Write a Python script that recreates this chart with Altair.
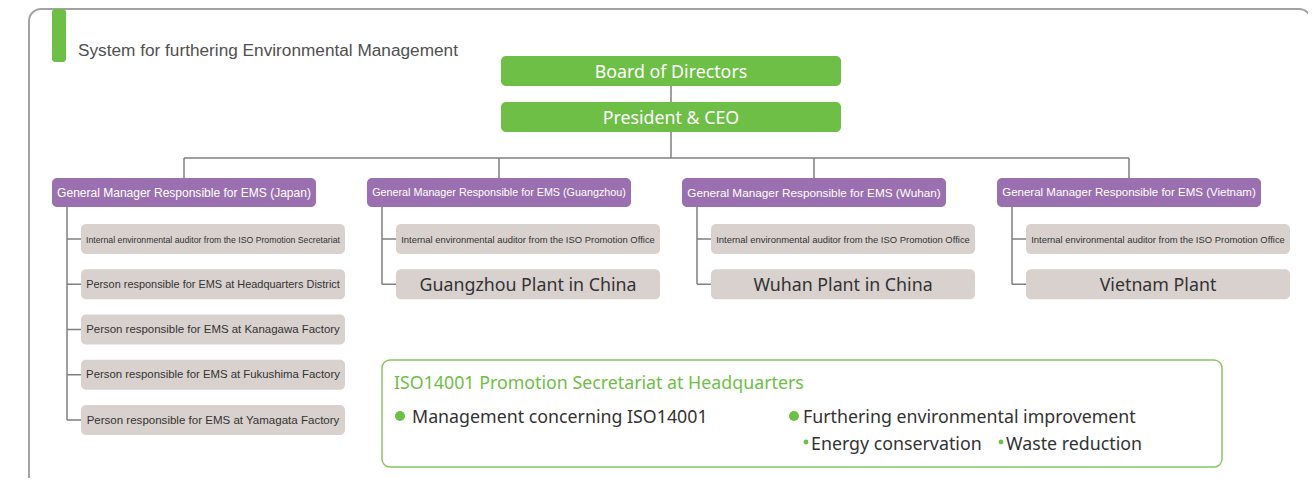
import altair as alt
import pandas as pd

# ---------------- content ----------------
chart_title = "System for furthering Environmental Management"
top_boxes = ["Board of Directors", "President & CEO"]
gm_labels = [
    "General Manager Responsible for EMS (Japan)",
    "General Manager Responsible for EMS (Guangzhou)",
    "General Manager Responsible for EMS (Wuhan)",
    "General Manager Responsible for EMS (Vietnam)",
]
auditor_labels = [
    "Internal environmental auditor from the ISO Promotion Secretariat",
    "Internal environmental auditor from the ISO Promotion Office",
    "Internal environmental auditor from the ISO Promotion Office",
    "Internal environmental auditor from the ISO Promotion Office",
]
japan_persons = [
    "Person responsible for EMS at Headquarters District",
    "Person responsible for EMS at Kanagawa Factory",
    "Person responsible for EMS at Fukushima Factory",
    "Person responsible for EMS at Yamagata Factory",
]
plant_labels = ["Guangzhou Plant in China", "Wuhan Plant in China", "Vietnam Plant"]
iso_title = "ISO14001 Promotion Secretariat at Headquarters"
iso_bullets = ["Management concerning ISO14001", "Furthering environmental improvement"]
iso_sub_bullets = ["Energy conservation", "Waste reduction"]

# ---------------- layout (pixels) ----------------
W, H = 1300, 470
X0, Y0 = 8, 8
GREEN = "#6dbf45"
PURPLE = "#9b70b0"
GREYBOX = "#d9d1ce"
LINE = "#7f7f7f"
TXT = "#333333"
NARROW = "Liberation Sans"
MAIN = "Noto Sans"
MAIN_SIZE = 17.8

# Arial / Liberation Sans advance widths (1/1000 em) to fit labels to boxes
_AW = {" ": 278, "(": 333, ")": 333, "&": 667, "a": 556, "b": 556, "c": 500, "d": 556,
       "e": 556, "f": 278, "g": 556, "h": 556, "i": 222, "j": 222, "k": 500, "l": 222,
       "m": 833, "n": 556, "o": 556, "p": 556, "q": 556, "r": 333, "s": 500, "t": 278,
       "u": 556, "v": 500, "w": 722, "x": 500, "y": 500, "z": 500, "A": 667, "B": 667,
       "C": 722, "D": 722, "E": 667, "F": 611, "G": 778, "H": 722, "I": 278, "J": 500,
       "K": 667, "L": 556, "M": 833, "N": 722, "O": 778, "P": 667, "Q": 778, "R": 722,
       "S": 667, "T": 611, "U": 722, "V": 667, "W": 944, "X": 667, "Y": 667, "Z": 611}


def fit_size(label, target, max_size):
    em = sum(_AW.get(ch, 556) for ch in label) / 1000.0
    return min(max_size, target / em)


col_left0, col_pitch, box_w = 52, 315, 264
col_left = [col_left0 + i * col_pitch for i in range(len(gm_labels))]
col_center = [c + box_w / 2 for c in col_left]
gm_top, gm_h = 178, 29
sub_off, sub_w, sub_h = 29, 264, 30
row0, row_pitch = 239, 45.25
stem_off = 15
top_x, top_x2, top_h = 501, 841, 30
top_y = [56, 102]
bus_y = 158
top_cx = (top_x + top_x2) / 2
fit_w = 254

xs = alt.Scale(domain=[X0, X0 + W], nice=False, zero=False)
ys = alt.Scale(domain=[Y0, Y0 + H], nice=False, zero=False, reverse=True)


def X(f, **k):
    return alt.X(f, type="quantitative", scale=xs, axis=None, **k)


def Y(f, **k):
    return alt.Y(f, type="quantitative", scale=ys, axis=None, **k)


def rects(df, **mk):
    return alt.Chart(df).mark_rect(**mk).encode(
        x=X("x"), x2="x2", y=Y("y"), y2="y2")


def texts(df, **mk):
    return alt.Chart(df).mark_text(**mk).encode(x=X("x"), y=Y("y"), text="t:N")


# frame + header
frame = rects(pd.DataFrame([{"x": 29, "x2": 1311, "y": 9, "y2": 500}]),
              fill="white", stroke="#a3a3a3", strokeWidth=2, cornerRadius=12)
accent = rects(pd.DataFrame([{"x": 52, "x2": 66, "y": 9, "y2": 62}]),
               fill=GREEN, cornerRadius=3)
title = texts(pd.DataFrame([{"x": 78, "y": 51, "t": chart_title}]),
              align="left", baseline="middle", font=NARROW,
              fontSize=fit_size(chart_title, 380, 20), color="#505050")

# connector lines
segs = []
segs.append((top_cx, top_y[0] + top_h, top_cx, top_y[1]))
segs.append((top_cx, top_y[1] + top_h, top_cx, bus_y))
segs.append((col_center[0], bus_y, col_center[-1], bus_y))
for c in col_center:
    segs.append((c, bus_y, c, gm_top))
n_rows = [1 + len(japan_persons)] + [2] * len(plant_labels)
for i, c in enumerate(col_left):
    sx = c + stem_off
    last = row0 + (n_rows[i] - 1) * row_pitch
    segs.append((sx, gm_top + gm_h, sx, last))
    for j in range(n_rows[i]):
        yc = row0 + j * row_pitch
        segs.append((sx, yc, c + sub_off, yc))
seg_df = pd.DataFrame(segs, columns=["x", "y", "x2", "y2"])
lines = alt.Chart(seg_df).mark_rule(color=LINE, strokeWidth=1.5).encode(
    x=X("x"), y=Y("y"), x2="x2", y2="y2")

# top green boxes
top_df = pd.DataFrame([{"x": top_x, "x2": top_x2, "y": y, "y2": y + top_h,
                        "cx": top_cx, "cy": y + top_h / 2, "t": t}
                       for y, t in zip(top_y, top_boxes)])
top_rect = rects(top_df, fill=GREEN, cornerRadius=5)
top_text = alt.Chart(top_df).mark_text(font=MAIN, fontSize=MAIN_SIZE, color="white",
                                       baseline="middle", dy=1.5).encode(
    x=X("cx"), y=Y("cy"), text="t:N")

# GM purple boxes
gm_df = pd.DataFrame([{"x": c, "x2": c + box_w, "y": gm_top, "y2": gm_top + gm_h,
                       "cx": c + box_w / 2, "cy": gm_top + gm_h / 2, "t": t,
                       "fs": fit_size(t, fit_w, 15)}
                      for c, t in zip(col_left, gm_labels)])
gm_rect = rects(gm_df, fill=PURPLE, cornerRadius=5)
gm_text = alt.Chart(gm_df).mark_text(font=NARROW, color="white",
                                     baseline="middle", dy=0.5).encode(
    x=X("cx"), y=Y("cy"), text="t:N", size=alt.Size("fs:Q", scale=None))


def sub_row(i, j, t):
    yc = row0 + j * row_pitch
    x = col_left[i] + sub_off
    return {"x": x, "x2": x + sub_w, "y": yc - sub_h / 2, "y2": yc + sub_h / 2,
            "cx": x + sub_w / 2, "cy": yc, "t": t, "fs": fit_size(t, fit_w, 15)}


aud = pd.DataFrame([sub_row(i, 0, auditor_labels[i]) for i in range(4)])
persons = pd.DataFrame([sub_row(0, j + 1, t) for j, t in enumerate(japan_persons)])
plants = pd.DataFrame([sub_row(i + 1, 1, t) for i, t in enumerate(plant_labels)])
all_sub = pd.concat([aud, persons, plants])
sub_rect = rects(all_sub, fill=GREYBOX, cornerRadius=5)

narrow_df = pd.concat([aud, persons])
t_narrow = alt.Chart(narrow_df).mark_text(baseline="middle", color=TXT, font=NARROW,
                                          dy=0.5).encode(
    x=X("cx"), y=Y("cy"), text="t:N", size=alt.Size("fs:Q", scale=None))
t_plants = alt.Chart(plants).mark_text(baseline="middle", color=TXT, font=MAIN,
                                       fontSize=MAIN_SIZE, dy=1.5).encode(
    x=X("cx"), y=Y("cy"), text="t:N")

# ISO box
iso_x, iso_x2, iso_y, iso_y2 = 382, 1222, 360, 467
iso_rect = rects(pd.DataFrame([{"x": iso_x, "x2": iso_x2, "y": iso_y, "y2": iso_y2}]),
                 fill="white", stroke="#85c862", strokeWidth=1.5, cornerRadius=8)
iso_t = texts(pd.DataFrame([{"x": iso_x + 12, "y": iso_y + 24, "t": iso_title}]),
              align="left", baseline="middle", font=MAIN, fontSize=MAIN_SIZE, color=GREEN)
b_cols = [iso_x + 18, iso_x + 412]
b_y = iso_y + 56
big_dots = pd.DataFrame([{"x": bx, "y": b_y} for bx in b_cols])
big_dot = alt.Chart(big_dots).mark_circle(size=100, color=GREEN, opacity=1).encode(
    x=X("x"), y=Y("y"))
b_txt = texts(pd.DataFrame([{"x": bx + (12 if k == 0 else 9), "y": b_y + 2, "t": t}
                            for k, (bx, t) in enumerate(zip(b_cols, iso_bullets))]),
              align="left", baseline="middle", font=MAIN, fontSize=MAIN_SIZE, color=TXT)
sb_x = [b_cols[1] + 12, b_cols[1] + 207]
sb_y = iso_y + 82
small_dot = alt.Chart(pd.DataFrame([{"x": x, "y": sb_y} for x in sb_x])).mark_circle(
    size=24, color=GREEN, opacity=1).encode(x=X("x"), y=Y("y"))
sb_txt = texts(pd.DataFrame([{"x": x + 5, "y": sb_y + 3, "t": t}
                             for x, t in zip(sb_x, iso_sub_bullets)]),
               align="left", baseline="middle", font=MAIN, fontSize=MAIN_SIZE, color=TXT)

chart = alt.layer(
    frame, accent, title, lines, top_rect, top_text, gm_rect, gm_text,
    sub_rect, t_narrow, t_plants,
    iso_rect, iso_t, big_dot, b_txt, small_dot, sb_txt,
).properties(width=W, height=H, padding=0, autosize=alt.AutoSizeParams(type="none")
).configure_view(stroke=None)

chart.save("out.html", embed_options={"renderer": "svg", "actions": False})
